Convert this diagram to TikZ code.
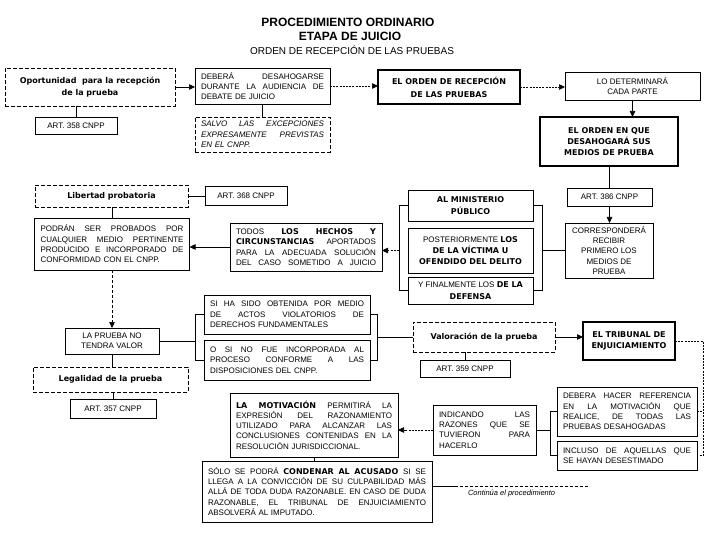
\documentclass[tikz,border=0pt]{standalone}
\usepackage{fontspec}
\setmainfont{Liberation Sans}
\newfontfamily\hv{DejaVu Sans}
\usetikzlibrary{arrows.meta}
\newcommand{\J}[1]{\makebox[\hsize][s]{\spaceskip=0.28em plus 4em minus 0.05em\relax #1}}
\newcommand{\hb}[1]{{\hv\bfseries #1}}
\begin{document}
\begin{tikzpicture}[x=1pt,y=-1pt,
  every node/.style={inner sep=0pt, outer sep=0pt},
  base/.style={draw, line width=0.7pt, font=\fontsize{8}{10.3}\selectfont},
  ctr/.style={base, align=center},
  jus/.style={base, align=left},
  dbox/.style={dash pattern=on 4pt off 2pt},
  heavyline/.style={line width=1.3pt},
  link/.style={line width=0.6pt},
  arr/.style={link, -{Triangle[length=6pt,width=5.5pt]}},
  dotl/.style={dash pattern=on 2pt off 1.2pt},
]
\fill[white] (0,0) rectangle (720,540);
\useasboundingbox (0,0) rectangle (720,540);

% titles
\node[font=\bfseries\fontsize{12}{12}\selectfont] (t1) at (348,22) {PROCEDIMIENTO ORDINARIO};
\node[font=\bfseries\fontsize{12}{12}\selectfont] (t2) at (350,36) {ETAPA DE JUICIO};
\node[font=\fontsize{10}{10}\selectfont] (t3) at (352,50) {ORDEN DE RECEPCIÓN DE LAS PRUEBAS};

% row 1
\node[ctr,dbox,minimum width=170,minimum height=38] (b1) at (90,87) {\hb{Oportunidad\ \ para la recepción}\\[1pt]\hb{de la prueba}};
\node[jus,minimum width=135,minimum height=36,text width=123] (b2) at (262.5,86) {\J{DEBERÁ DESAHOGARSE}\\\J{DURANTE LA AUDIENCIA DE}\\DEBATE DE JUICIO};
\node[ctr,heavyline,minimum width=142,minimum height=34] (b3) at (449,87) {\hb{EL ORDEN DE RECEPCIÓN}\\[3pt]\hb{DE LAS PRUEBAS}};
\node[ctr,minimum width=135,minimum height=28] (b4) at (632.5,86) {LO DETERMINARÁ\\CADA PARTE};
\node[ctr,minimum width=82,minimum height=17] (a358) at (76,125.5) {ART. 358 CNPP};
\node[jus,dbox,minimum width=135,minimum height=35,text width=123,font=\itshape\fontsize{8}{10.3}\selectfont] (b2b) at (262.5,134.5) {\J{SALVO LAS EXCEPCIONES}\\\J{EXPRESAMENTE PREVISTAS}\\EN EL CNPP.};
\node[ctr,heavyline,minimum width=138,minimum height=49] (b5) at (609,141.5) {\hb{EL ORDEN EN QUE}\\[1pt]\hb{DESAHOGARÁ SUS}\\[1pt]\hb{MEDIOS DE PRUEBA}};

% row 2
\node[ctr,dbox,minimum width=153,minimum height=22] (b8) at (111.5,196) {\hb{Libertad probatoria}};
\node[ctr,minimum width=82,minimum height=19] (a368) at (246,195.5) {ART. 368 CNPP};
\node[ctr,minimum width=85,minimum height=18] (a386) at (609.5,197) {ART. 386 CNPP};
\node[ctr,minimum width=125,minimum height=31] (b11) at (470.5,205.5) {\hb{AL MINISTERIO}\\[1pt]\hb{PÚBLICO}};
\node[jus,minimum width=155,minimum height=52,text width=143] (b9) at (112,244) {\J{PODRÁN SER PROBADOS POR}\\\J{CUALQUIER MEDIO PERTINENTE}\\\J{PRODUCIDO E INCORPORADO DE}\\CONFORMIDAD CON EL CNPP.};
\node[jus,minimum width=152,minimum height=48,text width=140] (b10) at (306,247) {\J{TODOS \hb{LOS HECHOS Y}}\\\J{\hb{CIRCUNSTANCIAS} APORTADOS}\\\J{PARA LA ADECUADA SOLUCIÓN}\\\J{DEL CASO SOMETIDO A JUICIO}};
\node[ctr,minimum width=125,minimum height=45] (b12) at (470.5,250.5) {POSTERIORMENTE \hb{LOS}\\[1pt]\hb{DE LA VÍCTIMA U}\\[1pt]\hb{OFENDIDO DEL DELITO}};
\node[ctr,minimum width=88,minimum height=55] (b7) at (609,250.5) {CORRESPONDERÁ\\RECIBIR\\PRIMERO LOS\\MEDIOS DE\\PRUEBA};
\node[ctr,minimum width=125,minimum height=27] (b13) at (470.5,290.5) {Y FINALMENTE LOS \hb{DE LA}\\[1pt]\hb{DEFENSA}};

% row 3
\node[jus,minimum width=166,minimum height=39,text width=154] (b16) at (287,314.5) {\J{SI HA SIDO OBTENIDA POR MEDIO}\\\J{DE ACTOS VIOLATORIOS DE}\\DERECHOS FUNDAMENTALES};
\node[jus,minimum width=166,minimum height=40,text width=154] (b17) at (287,360) {\J{O SI NO FUE INCORPORADA AL}\\\J{PROCESO CONFORME A LAS}\\DISPOSICIONES DEL CNPP.};
\node[ctr,minimum width=94,minimum height=26] (b14) at (112,341) {LA PRUEBA NO\\TENDRA VALOR};
\node[ctr,dbox,minimum width=142,minimum height=30] (val) at (484,337) {\hb{Valoración de la prueba}};
\node[ctr,minimum width=90,minimum height=17] (a359) at (465,368.5) {ART. 359 CNPP};
\node[ctr,heavyline,minimum width=92,minimum height=38] (trib) at (629,341) {\hb{EL TRIBUNAL DE}\\[1pt]\hb{ENJUICIAMIENTO}};
\node[ctr,dbox,minimum width=155,minimum height=25] (b15) at (110.5,379.5) {\hb{Legalidad de la prueba}};
\node[ctr,minimum width=86,minimum height=19] (a357) at (113,408.5) {ART. 357 CNPP};

% row 4
\node[jus,minimum width=168,minimum height=64,text width=156] (b18) at (314,425) {\J{\hb{LA MOTIVACIÓN} PERMITIRÁ LA}\\\J{EXPRESIÓN DEL RAZONAMIENTO}\\\J{UTILIZADO PARA ALCANZAR LAS}\\\J{CONCLUSIONES CONTENIDAS EN LA}\\RESOLUCIÓN JURISDICCIONAL.};
\node[jus,minimum width=103,minimum height=50,text width=91] (ind) at (484.5,430) {\J{INDICANDO LAS}\\\J{RAZONES QUE SE}\\\J{TUVIERON PARA}\\HACERLO};
\node[jus,minimum width=140,minimum height=49,text width=128] (b19) at (627,411.5) {\J{DEBERA HACER REFERENCIA}\\\J{EN LA MOTIVACIÓN QUE}\\\J{REALICE, DE TODAS LAS}\\PRUEBAS DESAHOGADAS};
\node[jus,minimum width=140,minimum height=29,text width=128] (b20) at (627,455.5) {\J{INCLUSO DE AQUELLAS QUE}\\SE HAYAN DESESTIMADO};
\node[jus,minimum width=230,minimum height=61,text width=218] (b21) at (317,491.5) {\J{SÓLO SE PODRÁ \hb{CONDENAR AL ACUSADO} SI SE}\\\J{LLEGA A LA CONVICCIÓN DE SU CULPABILIDAD MÁS}\\\J{ALLÁ DE TODA DUDA RAZONABLE. EN CASO DE DUDA}\\\J{RAZONABLE, EL TRIBUNAL DE ENJUICIAMIENTO}\\ABSOLVERÁ AL IMPUTADO.};
\node[font=\itshape\fontsize{7.5}{9}\selectfont, anchor=west] (cont) at (468,494) {Continúa el procedimiento};

% connectors row 1
\draw[arr] (b1.east) -- (b1.east -| b2.west);
\draw[arr,dotl] (b2.east) -- (b2.east -| b3.west);
\draw[arr,dotl] (b3.east) -- (b3.east -| b4.west);
\draw[arr] (b4.south) -- (b4.south |- b5.north);
\draw[link] (a358.north) -- (a358.north |- b1.south);
\draw[link] (b2.south) -- (b2b.north);
\draw[link] (b5.south) -- (b5.south |- a386.north);
\draw[arr] (a386.south) -- (a386.south |- b7.north);

% connectors row 2
\draw[link] (b8.east) -- (b8.east -| a368.west);
\draw[link] (b9.north) -- (b9.north |- b8.south);
\coordinate (lb) at (399,250.5);
\coordinate (rb) at (542,250.5);
\draw[link] (b11.west) -- (b11.west -| lb) -- (b13.west -| lb) -- (b13.west);
\draw[link] (b11.east) -- (b11.east -| rb) -- (b13.east -| rb) -- (b13.east);
\draw[link] (b7.west) -- (b7.west -| rb);
\draw[arr,dotl] (lb) -- (lb -| b10.east);
\draw[arr] (b10.west) -- (b10.west -| b9.east);
\draw[arr,densely dashed] (b9.south) -- (b9.south |- b14.north);

% connectors row 3
\draw[link] (b14.south) -- (b14.south |- b15.north);
\draw[link] (a357.north) -- (a357.north |- b15.south);
\coordinate (lc) at (195,341);
\coordinate (rc) at (377,337);
\draw[link] (b16.west) -- (b16.west -| lc) -- (b17.west -| lc) -- (b17.west);
\draw[link] (b14.east) -- (b14.east -| lc);
\draw[link] (b16.east) -- (b16.east -| rc) -- (b17.east -| rc) -- (b17.east);
\draw[link] (rc) -- (rc -| val.west);
\draw[arr] (val.east) -- (val.east -| trib.west);
\draw[link] (a359.north) -- (a359.north |- val.south);

% connectors row 4
\coordinate (rd) at (703,411.5);
\coordinate (ld) at (550,430);
\draw[link,dotl] (trib.east) -| (rd |- b20.east) -- (b20.east);
\draw[link,dotl] (b19.east) -- (b19.east -| rd);
\draw[link] (b19.west) -- (b19.west -| ld) -- (b20.west -| ld) -- (b20.west);
\draw[link] (ld) -- (ld -| ind.east);
\draw[arr,dotl] (ind.west) -- (ind.west -| b18.east);
\draw[link] (b18.south) -- (b18.south |- b21.north);
\coordinate (cl) at (455,486);
\coordinate (cle) at (590,486);
\draw[link] (cl -| b21.east) -- (cl);
\draw[link,densely dashed] (cl) -- (cle);
\end{tikzpicture}
\end{document}
